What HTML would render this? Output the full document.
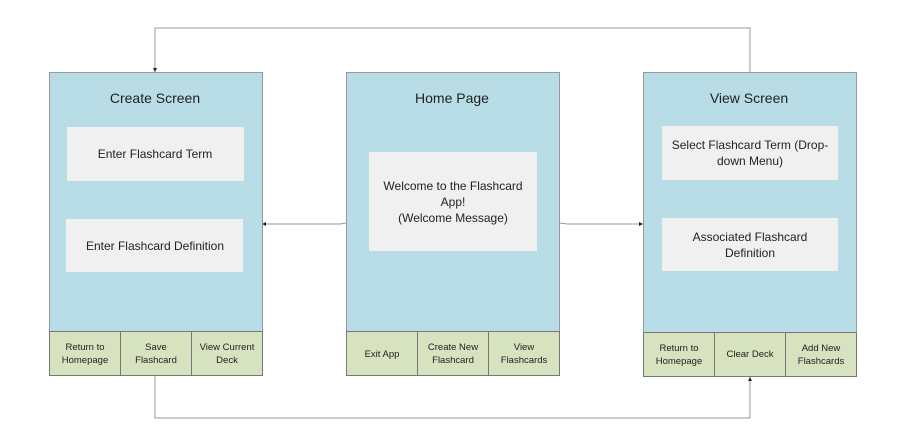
<!DOCTYPE html>
<html><head><style>body{margin:0;background:#fff}svg{display:block}text{font-family:"Liberation Sans",sans-serif;fill:#222}</style></head><body>
<svg width="903" height="444" viewBox="0 0 903 444" xmlns="http://www.w3.org/2000/svg">
<defs><marker id="a" markerWidth="4" markerHeight="4" refX="4" refY="2" orient="auto" markerUnits="userSpaceOnUse"><path d="M0,0 L4,2 L0,4z" fill="#222"/></marker></defs>
<g stroke="#999" stroke-width="1" fill="none">
<polyline points="750,72 750,28 155,28 155,72" marker-end="url(#a)"/>
<polyline points="155,376 155,418 750,418 750,377" marker-end="url(#a)"/>
<polyline points="346,223 340,224 262,224" marker-end="url(#a)"/>
<polyline points="559,223 568,224 643,224" marker-end="url(#a)"/>
</g>
<g stroke="#999" stroke-width="1">
<rect x="49.5" y="72.5" width="213" height="259" fill="#b8dde7"/>
<rect x="346.5" y="72.5" width="213" height="259" fill="#b8dde7"/>
<rect x="643.5" y="72.5" width="213" height="260" fill="#b8dde7"/>
<g fill="#d7e2bf" stroke="#777">
<rect x="49.5" y="331.5" width="71" height="44"/><rect x="120.5" y="331.5" width="71" height="44"/><rect x="191.5" y="331.5" width="71" height="44"/>
<rect x="346.5" y="331.5" width="71" height="44"/><rect x="417.5" y="331.5" width="71" height="44"/><rect x="488.5" y="331.5" width="71" height="44"/>
<rect x="643.5" y="332.5" width="71" height="44"/><rect x="714.5" y="332.5" width="71" height="44"/><rect x="785.5" y="332.5" width="71" height="44"/>
</g>
</g>
<g fill="#f0f0f0">
<rect x="67" y="127" width="177" height="54"/><rect x="66" y="219" width="177" height="53"/>
<rect x="369" y="152" width="168" height="99"/>
<rect x="662" y="126" width="176" height="54"/><rect x="662" y="218" width="176" height="53"/>
</g>
<g font-size="14" text-anchor="middle">
<text x="155" y="103">Create Screen</text>
<text x="452" y="103">Home Page</text>
<text x="749" y="103">View Screen</text>
</g>
<g font-size="12" text-anchor="middle">
<text x="155" y="158">Enter Flashcard Term</text>
<text x="155" y="250">Enter Flashcard Definition</text>
<text x="453" y="190">Welcome to the Flashcard</text>
<text x="453" y="206">App!</text>
<text x="453" y="222">(Welcome Message)</text>
<text x="750" y="149">Select Flashcard Term (Drop-</text>
<text x="750" y="165">down Menu)</text>
<text x="750" y="241">Associated Flashcard</text>
<text x="750" y="257">Definition</text>
</g>
<g font-size="9.5" text-anchor="middle">
<text x="85" y="350">Return to</text><text x="85" y="363">Homepage</text>
<text x="156" y="350">Save</text><text x="156" y="363">Flashcard</text>
<text x="227" y="350">View Current</text><text x="227" y="363">Deck</text>
<text x="382" y="357">Exit App</text>
<text x="453" y="350">Create New</text><text x="453" y="363">Flashcard</text>
<text x="524" y="350">View</text><text x="524" y="363">Flashcards</text>
<text x="679" y="351">Return to</text><text x="679" y="364">Homepage</text>
<text x="750" y="357">Clear Deck</text>
<text x="821" y="351">Add New</text><text x="821" y="364">Flashcards</text>
</g>
</svg>
</body></html>
